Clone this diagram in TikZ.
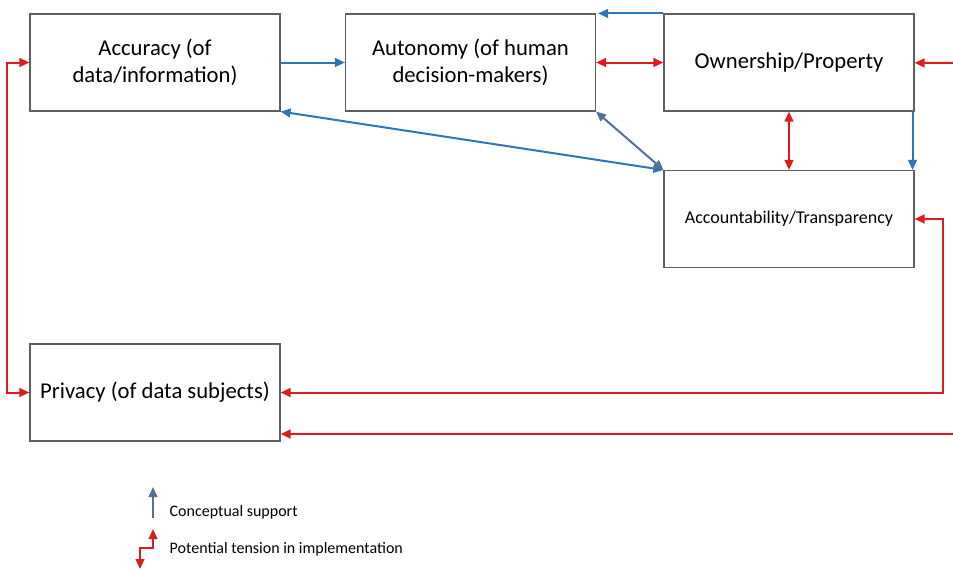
\documentclass[tikz,border=0pt]{standalone}
\usepackage{fontspec}
\setmainfont{Carlito}
\usepackage{tikz}
\usetikzlibrary{arrows,arrows.meta,shapes,positioning}
\definecolor{vsblue}{RGB}{46,117,182}
\definecolor{vsgrayblue}{RGB}{84,112,150}
\definecolor{vsred}{RGB}{222,28,32}
\definecolor{vsframe}{RGB}{95,95,95}
\tikzstyle{valuebox} = [rectangle, minimum width=187.5pt, minimum height=72.75pt, text centered, align=center, draw=vsframe, line width=0.8pt, font=\fontsize{17}{20}\selectfont]
\tikzstyle{supportarrow} = [line width=1.5pt,->,>={Triangle[length=7.5pt,width=6.5pt]},color=vsblue]
\tikzstyle{tensionarrow} = [line width=1.5pt,->,>={Triangle[length=7.5pt,width=6.5pt]},color=vsred]
\tikzstyle{legendtext} = [anchor=west, font=\fontsize{12}{14}\selectfont]

\begin{document}
\begin{tikzpicture}[x=0.75pt,y=-0.75pt]
\useasboundingbox (0,0) rectangle (953,571);
% Values
\node[valuebox] (acc) at (155,62.5) {Accuracy (of\\data/information)};
\node[valuebox] (aut) at (470.5,62.5) {Autonomy (of human\\decision-makers)};
\node[valuebox] (own) at (789,62.5) {Ownership/Property};
\node[valuebox, font=\fontsize{13.5}{16}\selectfont] (acct) at (789,219) {Accountability/Transparency};
\node[valuebox] (priv) at (155,392.5) {Privacy (of data subjects)};

% Free ends and corners
\coordinate (ownin) at (953,63);
\coordinate (privin) at (953,434);
\coordinate (corner) at (943,392.5);

% Conceptual support
\draw[supportarrow] (acc) -- (aut);
\draw[supportarrow] (own.north west) -- ([xshift=1.5pt]aut.north east);
\draw[supportarrow] ([xshift=-1.5pt]own.south east) -- ([xshift=-1.5pt]acct.north east);
\draw[supportarrow,<->] (acc.south east) -- (acct.north west);
\draw[supportarrow,<->,color=vsgrayblue] (aut.south east) -- (acct.north west);

% Potential tension
\draw[tensionarrow,<->] (aut) -- (own);
\draw[tensionarrow] (ownin) -- (own);
\draw[tensionarrow,<->] (own) -- (acct);
\draw[tensionarrow,<->] (acct.east) -| (corner) -- (priv.east);
\draw[tensionarrow] (privin) -- (privin -| priv.east);
\draw[tensionarrow,<->] (acc.west) -- ++(-22,0) |- (priv.west);

% Legend
\coordinate (lsa) at (153,518);
\coordinate (lsb) at (153,487);
\draw[supportarrow,color=vsgrayblue] (lsa) -- (lsb);
\node[legendtext] (lsup) at (165,512) {Conceptual support};
\coordinate (lta) at (140,569);
\coordinate (ltb) at (153,529);
\draw[tensionarrow,<->] (lta) |- (153,548) -- (ltb);
\node[legendtext] (lten) at (165,549) {Potential tension in implementation};
\end{tikzpicture}
\end{document}
